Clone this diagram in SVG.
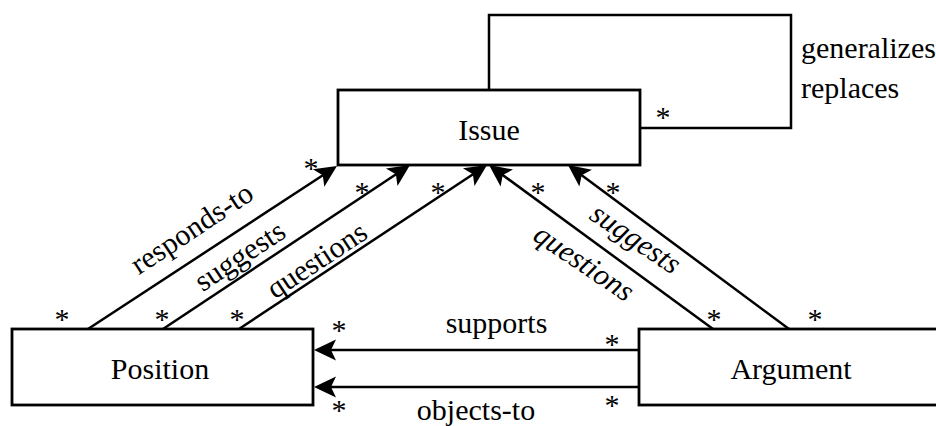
<svg xmlns="http://www.w3.org/2000/svg" width="936" height="426" viewBox="0 0 936 426">
<style>
text{font-family:"Liberation Serif","Times New Roman",serif;font-size:30px;fill:#000}
.box{fill:#fff;stroke:#000;stroke-width:2.8}
.ln{fill:none;stroke:#000;stroke-width:2.5}
.arr{marker-end:url(#ah)}
.st{font-size:30px;text-anchor:middle}
.c{text-anchor:middle}
.it{font-style:italic;text-anchor:middle}
</style>
<defs>
<marker id="ah" markerUnits="userSpaceOnUse" viewBox="-15 -15 30 30" markerWidth="30" markerHeight="30" refX="0" refY="0" orient="auto" overflow="visible">
<path d="M10,0 L-12,-10.5 L-7,0 L-12,10.5 Z" fill="#000"/>
</marker>
</defs>
<rect width="936" height="426" fill="#fff"/>
<g id="connectors">
<path class="ln" d="M489,90 V15 H791 V128 H640"/>
<line class="ln arr" x1="88" y1="329" x2="328.6" y2="171.5"/>
<line class="ln arr" x1="163" y1="329" x2="401.7" y2="170.5"/>
<line class="ln arr" x1="239" y1="329" x2="478.7" y2="170.5"/>
<line class="ln arr" x1="713" y1="329" x2="497.1" y2="170.9"/>
<line class="ln arr" x1="789" y1="329" x2="576" y2="171"/>
<line class="ln arr" x1="639" y1="350" x2="324" y2="350"/>
<line class="ln arr" x1="639" y1="387" x2="324" y2="387"/>
<text x="801" y="58">generalizes</text>
<text x="801" y="98">replaces</text>
<text class="c" x="496.5" y="333">supports</text>
<text class="c" x="476" y="420">objects-to</text>
<text class="c" transform="translate(193.3,230.8) rotate(-33.5)" y="7">responds-to</text>
<text class="c" transform="translate(242.5,260) rotate(-33.5)" y="5">suggests</text>
<text class="c" transform="translate(318.3,262.5) rotate(-33.5)" y="7">questions</text>
<text class="it" transform="translate(633,242.5) rotate(34)" y="5">suggests</text>
<text class="it" transform="translate(582.5,265) rotate(34)" y="7">questions</text>
<text class="st" x="663" y="127">*</text>
<text class="st" x="311" y="178">*</text>
<text class="st" x="362" y="202">*</text>
<text class="st" x="438" y="202">*</text>
<text class="st" x="538" y="202">*</text>
<text class="st" x="613" y="202">*</text>
<text class="st" x="62" y="329">*</text>
<text class="st" x="162" y="329">*</text>
<text class="st" x="237" y="329">*</text>
<text class="st" x="714" y="329">*</text>
<text class="st" x="815" y="329">*</text>
<text class="st" x="339" y="340">*</text>
<text class="st" x="612" y="354">*</text>
<text class="st" x="612" y="415">*</text>
<text class="st" x="339" y="420">*</text>
</g>
<g id="issue">
<rect class="box" x="338" y="90" width="302" height="75"/>
<text class="c" x="489" y="140">Issue</text>
</g>
<g id="position">
<rect class="box" x="12" y="329" width="301" height="76"/>
<text class="c" x="160" y="379">Position</text>
</g>
<g id="argument">
<rect class="box" x="639" y="329" width="310" height="76"/>
<text class="c" x="791" y="379">Argument</text>
</g>
</svg>
